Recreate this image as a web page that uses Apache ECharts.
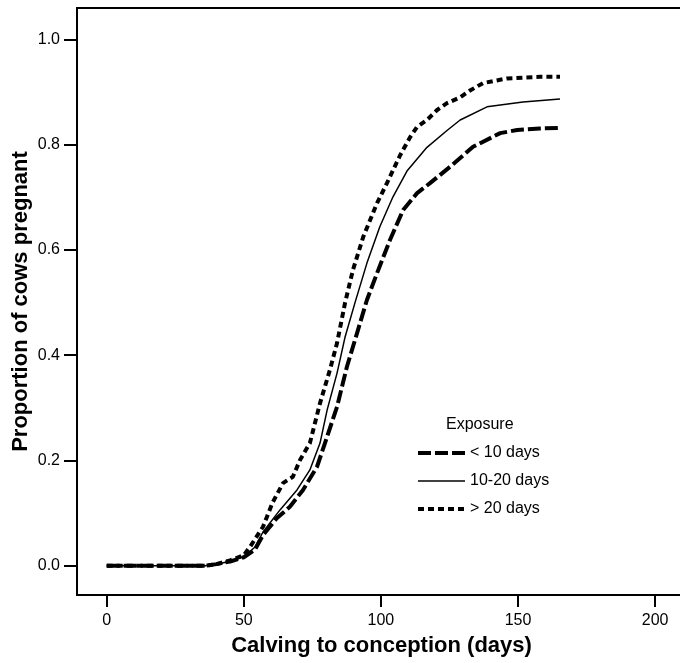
<!DOCTYPE html>
<html>
<head>
<meta charset="utf-8">
<script src="https://cdn.jsdelivr.net/npm/echarts@6/dist/echarts.min.js"></script>
<style>
html,body{margin:0;padding:0;background:#fff;}
#chart{width:680px;height:663px;}
</style>
</head>
<body>
<div id="chart"></div>
<script>
// Tick labels
var xTicks = [0, 50, 100, 150, 200];
var yTicks = [0, 0.2, 0.4, 0.6, 0.8, 1.0];

// Series names
var seriesNames = ['< 10 days', '10-20 days', '> 20 days'];

// < 10 days exposure
var daysLt10 = [0, 36, 40, 45, 50, 54, 57, 62, 66.8, 71.6, 76.7, 79.6, 84.0, 87.6, 91.3, 94.9, 98.6, 103.3, 108.1, 113.2, 117.9, 125.2, 133.6, 143.5, 149.7, 158, 165.3];
var propLt10 = [0, 0, 0.003, 0.008, 0.016, 0.03, 0.058, 0.09, 0.112, 0.144, 0.188, 0.233, 0.302, 0.378, 0.442, 0.505, 0.556, 0.619, 0.676, 0.708, 0.727, 0.758, 0.796, 0.822, 0.828, 0.831, 0.832];

// 10-20 days exposure
var days10to20 = [0, 36, 40, 45, 50, 54, 57, 63.2, 69.4, 74.1, 77.8, 80.4, 84.0, 86.9, 90.5, 94.9, 99.6, 104.4, 109.5, 116.8, 124.1, 128.9, 138.7, 151.8, 165.3];
var prop10to20 = [0, 0, 0.003, 0.008, 0.017, 0.035, 0.064, 0.106, 0.144, 0.182, 0.233, 0.296, 0.366, 0.434, 0.499, 0.575, 0.644, 0.701, 0.75, 0.795, 0.827, 0.847, 0.872, 0.881, 0.887];

// > 20 days exposure
var daysGt20 = [0, 36, 40, 45, 50, 52.3, 57.0, 60.5, 64.3, 67.9, 70.5, 74.1, 77.8, 81.4, 84.0, 86.9, 89.8, 93.5, 98.6, 102.2, 107.0, 110.6, 113.2, 116.8, 120.5, 124.1, 128.9, 132.5, 137.2, 146.0, 158.0, 165.3];
var propGt20 = [0, 0, 0.003, 0.01, 0.02, 0.036, 0.074, 0.12, 0.157, 0.169, 0.201, 0.233, 0.309, 0.372, 0.423, 0.499, 0.562, 0.624, 0.689, 0.727, 0.78, 0.814, 0.834, 0.847, 0.866, 0.879, 0.890, 0.903, 0.917, 0.926, 0.929, 0.929];

function zip(a, b) { return a.map(function (v, i) { return [v, b[i]]; }); }

var FONT = 'Liberation Sans, Arial, Helvetica, sans-serif';
var lineStyles = [
  {color: '#000', width: 4, type: [13, 4]},
  {color: '#000', width: 1.5, type: 'solid'},
  {color: '#000', width: 4, type: [6, 4]}
];
var chart = echarts.init(document.getElementById('chart'), null, {renderer: 'canvas'});

var option = {
  animation: false,
  backgroundColor: '#fff',
  grid: {
    left: 77, top: 8, width: 605, height: 587,
    outerBoundsMode: 'none', containLabel: false,
    show: true, borderColor: '#000', borderWidth: 2, backgroundColor: 'transparent'
  },
  graphic: [{
    type: 'text', left: 446, top: 417,
    style: {text: 'Exposure', font: '16px ' + FONT, fill: '#000'}
  }],
  legend: {
    orient: 'vertical', left: 416, top: 445, padding: 0,
    itemWidth: 47, itemHeight: 14, itemGap: 12,
    textStyle: {fontFamily: FONT, fontSize: 16, color: '#000'},
    itemStyle: {opacity: 0},
    data: seriesNames.map(function (n, i) {
      return {name: n, itemStyle: {opacity: 0}, lineStyle: lineStyles[i]};
    })
  },
  xAxis: {
    type: 'value', min: -10.83, max: 209.8,
    name: 'Calving to conception (days)', nameLocation: 'middle', nameGap: 40,
    nameMoveOverlap: false,
    nameTextStyle: {fontFamily: FONT, fontSize: 22, fontWeight: 'bold', color: '#000', padding: [0, 0, 0, 4]},
    axisLine: {show: false, onZero: false},
    axisTick: {show: true, length: 12, lineStyle: {color: '#000', width: 2}, customValues: xTicks},
    axisLabel: {fontFamily: FONT, fontSize: 16, color: '#000', margin: 18, customValues: xTicks},
    splitLine: {show: false}
  },
  yAxis: {
    type: 'value', min: -0.0557, max: 1.0598,
    name: 'Proportion of cows pregnant', nameLocation: 'middle', nameGap: 45,
    nameMoveOverlap: false,
    nameTextStyle: {fontFamily: FONT, fontSize: 22, fontWeight: 'bold', color: '#000'},
    axisLine: {show: false, onZero: false},
    axisTick: {show: true, length: 13, lineStyle: {color: '#000', width: 2}, customValues: yTicks},
    axisLabel: {fontFamily: FONT, fontSize: 16, color: '#000', margin: 17, customValues: yTicks,
      formatter: function (v) { return v.toFixed(1); }},
    splitLine: {show: false}
  },
  series: seriesNames.map(function (n, i) {
    var d = [zip(daysLt10, propLt10), zip(days10to20, prop10to20), zip(daysGt20, propGt20)][i];
    return {
      name: n, type: 'line', data: d, symbol: 'none', showSymbol: false, color: '#000',
      lineStyle: lineStyles[i]
    };
  })
};
chart.setOption(option);
</script>
</body>
</html>
